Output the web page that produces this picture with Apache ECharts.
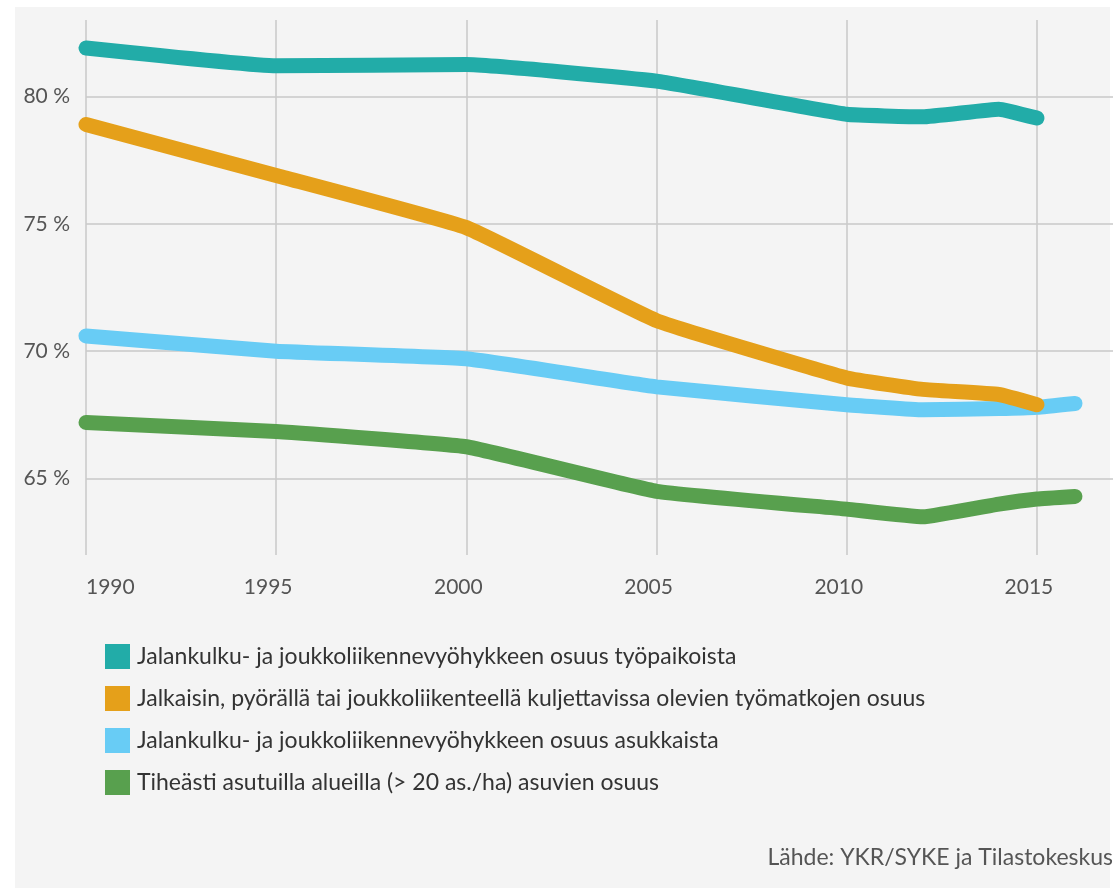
<!DOCTYPE html>
<html>
<head>
<meta charset="utf-8">
<script src="https://cdn.jsdelivr.net/npm/echarts@6/dist/echarts.min.js"></script>
<style>
    html, body { margin: 0; padding: 0; background: #fff; }
    #panel { position: absolute; left: 15px; top: 7px; width: 1095px; height: 881px; background: #f4f4f4; }
    #chart { position: absolute; left: 0; top: 0; width: 1117px; height: 888px; }
</style>
</head>
<body>
<div id="panel"></div>
<div id="chart"></div>
<script>
// Data
const years = [1990, 1995, 2000, 2005, 2010, 2012, 2014, 2015, 2016];
const seriesNames = [
    "Jalankulku- ja joukkoliikennevyöhykkeen osuus työpaikoista",
    "Jalkaisin, pyörällä tai joukkoliikenteellä kuljettavissa olevien työmatkojen osuus",
    "Jalankulku- ja joukkoliikennevyöhykkeen osuus asukkaista",
    "Tiheästi asutuilla alueilla (> 20 as./ha) asuvien osuus"
];
const tyopaikat = [81.9, 81.2, 81.25, 80.6, 79.3, 79.2, 79.5, 79.15, null];
const tyomatkat = [78.9, 76.9, 74.85, 71.2, 68.95, 68.5, 68.3, 67.9, null];
const asukkaat = [70.6, 70.0, 69.7, 68.6, 67.9, 67.7, 67.75, 67.8, 67.95];
const tiheasti = [67.2, 66.85, 66.25, 64.5, 63.8, 63.5, 64.0, 64.2, 64.3];
const xTicks = [1990, 1995, 2000, 2005, 2010, 2015];
const yTicks = [65, 70, 75, 80];
const colors = ["#22aca8", "#e5a01a", "#68ccf5", "#58a04e"];
const sourceText = "Lähde: YKR/SYKE ja Tilastokeskus";

const font = "Lato, 'Open Sans', sans-serif";

function pairs(values) {
    return years.map((y, i) => [y, values[i]]).filter(p => p[1] !== null);
}

const chart = echarts.init(document.getElementById("chart"));
const lines = [tyopaikat, tyomatkat, asukkaat, tiheasti];
// orange end sits on top of the light blue line
const zOrder = [2, 4, 3, 2];

const option = {
    animation: false,
    color: colors,
    grid: {
        left: 86,
        top: 20,
        width: 1027,
        height: 535
    },
    xAxis: {
        type: "value",
        min: 1990,
        max: 2017,
        axisLine: { show: false },
        axisTick: { show: false, customValues: xTicks },
        splitLine: { show: true, lineStyle: { color: "#c9c9c9", width: 1.5 } },
        axisLabel: {
            color: "#555",
            fontFamily: font,
            fontSize: 21,
            margin: 22,
            padding: [0, 16, 0, 0],
            alignMinLabel: "left",
            customValues: xTicks,
            formatter: v => String(v)
        }
    },
    yAxis: {
        type: "value",
        min: 62,
        max: 83,
        axisLine: { show: false },
        axisTick: { show: false, customValues: yTicks },
        splitLine: { show: true, lineStyle: { color: "#c9c9c9", width: 1.5 } },
        axisLabel: {
            color: "#555",
            fontFamily: font,
            fontSize: 21,
            margin: 16,
            customValues: yTicks,
            formatter: v => v + " %"
        }
    },
    legend: {
        orient: "vertical",
        left: 100,
        top: 639,
        icon: "rect",
        itemWidth: 25,
        itemHeight: 25,
        itemGap: 17,
        textStyle: { color: "#333", fontFamily: font, fontSize: 23, padding: [0, 0, 0, 2] },
        data: seriesNames
    },
    graphic: [{
        type: "text",
        right: 4,
        top: 846,
        style: { text: sourceText, fill: "#555", font: "23px " + font }
    }],
    series: lines.map((vals, i) => ({
        name: seriesNames[i],
        type: "line",
        z: zOrder[i],
        data: pairs(vals),
        showSymbol: false,
        symbol: "none",
        smooth: 0.1,
        lineStyle: { width: 15, cap: "round", join: "round", color: colors[i] },
        itemStyle: { color: colors[i] }
    }))
};
chart.setOption(option);
</script>
</body>
</html>
